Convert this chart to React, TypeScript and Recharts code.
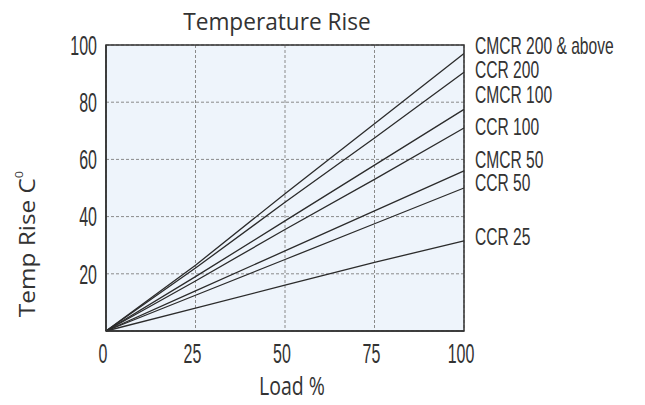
import React from 'react';
import { LineChart, Line, XAxis, YAxis, CartesianGrid, ReferenceArea } from 'recharts';

// load points along the x axis
const loads = [0, 25, 50, 75, 100];

// temperature rise, one list per rating
const cmcr200 = [0, 23, 48, 72.5, 97];
const ccr200 = [0, 22, 45, 67.5, 90.5];
const cmcr100 = [0, 19, 38.5, 58, 77.5];
const ccr100 = [0, 17.5, 35.5, 53, 71];
const cmcr50 = [0, 14, 28, 42, 56];
const ccr50 = [0, 12.5, 25, 37.5, 50];
const ccr25 = [0, 8, 16, 24, 31.5];

const seriesNames = ['CMCR 200 & above', 'CCR 200', 'CMCR 100', 'CCR 100', 'CMCR 50', 'CCR 50', 'CCR 25'];
const seriesValues = [cmcr200, ccr200, cmcr100, ccr100, cmcr50, ccr50, ccr25];
// where each name sits on the right, in temperature units
const labelAt = [99.6, 91.2, 82.5, 71.3, 59.9, 51.9, 33.1];

const xTicks = [0, 25, 50, 75, 100];
const yTicks = [20, 40, 60, 80, 100];

const data = loads.map((load, i) => {
  const row: any = { load };
  seriesNames.forEach((name, s) => {
    row[name] = seriesValues[s][i];
  });
  return row;
});

const INK = '#333';
const SANS = 'Liberation Sans, Arial, sans-serif';
const SOFT = '"Open Sans", sans-serif';

// the picture is squeezed sideways, so text is drawn with its own scale
const Squeezed = ({ x, y, sx, sy, size, anchor, family, rotate = 0, children }: any) => (
  <text
    transform={`translate(${x},${y}) rotate(${rotate}) scale(${sx},${sy})`}
    textAnchor={anchor}
    dominantBaseline="central"
    fontSize={size}
    fontFamily={family}
    fill={INK}
  >
    {children}
  </text>
);

const LeftTick = ({ x, y, payload }: any) => (
  <Squeezed x={x} y={y} sx={0.8} sy={1.4} size={20} anchor="end" family={SANS}>
    {payload.value}
  </Squeezed>
);

const BottomTick = ({ x, y, payload }: any) => (
  <Squeezed x={x - 3} y={y} sx={0.8} sy={1.4} size={20} anchor="middle" family={SANS}>
    {payload.value}
  </Squeezed>
);

const NameTick = ({ x, y, payload, index }: any) => {
  let i = labelAt.indexOf(payload.value);
  if (i < 0) i = index;
  return (
    <Squeezed x={x} y={y} sx={0.78} sy={1.17} size={20} anchor="start" family={SANS}>
      {seriesNames[i]}
    </Squeezed>
  );
};

export default function App() {
  return (
    <div style={{ position: 'absolute', left: 0, top: 0, width: 645, height: 405, background: '#fff' }}>
      <LineChart width={645} height={405} data={data} margin={{ top: 45, right: 0, bottom: 44, left: 46 }}>
        <CartesianGrid
          xAxisId="bottom"
          yAxisId="left"
          fill="#eef4fb"
          stroke="#8a8a8a"
          strokeDasharray="3 2"
        />
        <XAxis
          xAxisId="bottom"
          dataKey="load"
          type="number"
          domain={[0, 100]}
          ticks={xTicks}
          height={30}
          axisLine={{ stroke: INK, strokeWidth: 1.5 }}
          tickLine={false}
          tickSize={0}
          tickMargin={22}
          tick={<BottomTick />}
        />
        <YAxis
          yAxisId="left"
          type="number"
          domain={[0, 100]}
          ticks={yTicks}
          width={60}
          axisLine={{ stroke: INK, strokeWidth: 1.5 }}
          tickLine={false}
          tickSize={0}
          tickMargin={9}
          tick={<LeftTick />}
        />
        <YAxis
          yAxisId="right"
          orientation="right"
          type="number"
          domain={[0, 100]}
          allowDataOverflow
          ticks={labelAt}
          interval={0}
          width={181}
          axisLine={false}
          tickLine={false}
          tickSize={0}
          tickMargin={11}
          tick={<NameTick />}
        />
        {/* frame round the plot */}
        <ReferenceArea
          xAxisId="bottom"
          yAxisId="left"
          x1={0}
          x2={100}
          y1={0}
          y2={100}
          fill="none"
          fillOpacity={0}
          stroke={INK}
          strokeWidth={1.5}
          ifOverflow="visible"
        />
        {seriesNames.map((name) => (
          <Line
            key={name}
            xAxisId="bottom"
            yAxisId="left"
            type="linear"
            dataKey={name}
            stroke="#2b2b2b"
            strokeWidth={1.3}
            dot={false}
            isAnimationActive={false}
          />
        ))}
      </LineChart>
      <svg width={645} height={405} style={{ position: 'absolute', left: 0, top: 0, pointerEvents: 'none' }}>
        <Squeezed x={277} y={21} sx={1.03} sy={1.1} size={22} anchor="middle" family={SOFT}>
          Temperature Rise
        </Squeezed>
        <Squeezed x={292} y={386} sx={0.78} sy={1.0} size={25} anchor="middle" family={SOFT}>
          Load %
        </Squeezed>
        <Squeezed x={27} y={244} sx={1.06} sy={0.95} size={23} anchor="middle" family={SOFT} rotate={-90}>
          Temp Rise C<tspan dy={-9} fontSize={12}>0</tspan>
        </Squeezed>
      </svg>
    </div>
  );
}
